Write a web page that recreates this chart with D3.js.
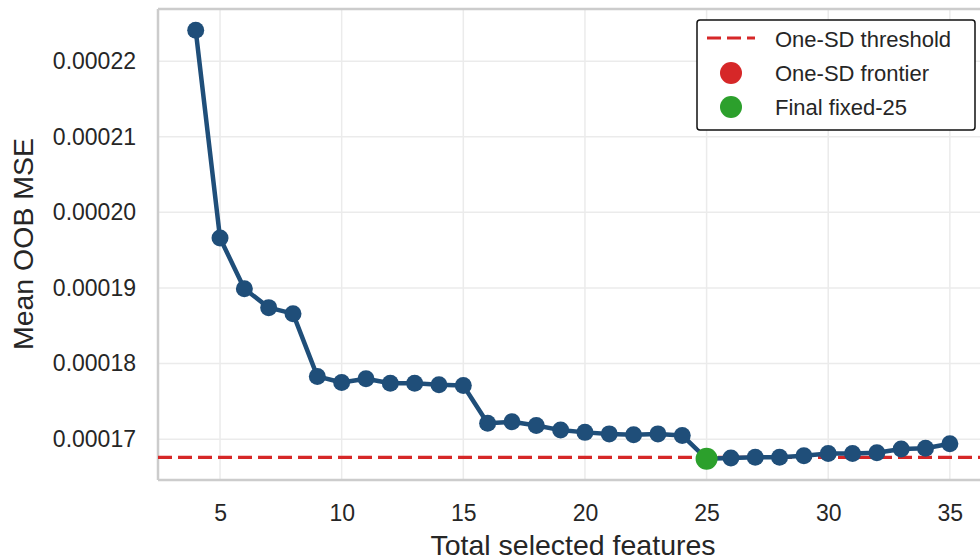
<html>
<head>
<script src="https://d3js.org/d3.v7.min.js"></script>
<style>
body { margin: 0; background: #fff; }
svg { font-family: 'Liberation Sans', Arial, sans-serif; }
</style>
</head>
<body>
<svg id="chart" width="980" height="560"></svg>
<script>
// data
var nFeatures = [4,5,6,7,8,9,10,11,12,13,14,15,16,17,18,19,20,21,22,23,24,25,26,27,28,29,30,31,32,33,34,35];
var meanMse = [0.0002241,0.0001966,0.0001899,0.0001874,0.0001866,0.0001783,0.0001775,0.0001780,0.0001774,0.0001774,0.0001772,0.0001771,
  0.0001721,0.0001723,0.0001718,0.0001712,0.0001709,0.0001707,0.0001706,0.0001707,0.0001705,0.0001674,0.0001675,0.0001676,
  0.0001676,0.0001678,0.0001681,0.0001681,0.0001682,0.0001687,0.0001688,0.0001694];
var threshold = 0.0001676;
var finalK = 25;
var xTicks = [5,10,15,20,25,30,35];
var yTicks = [0.00017,0.00018,0.00019,0.00020,0.00021,0.00022];
var legendLabels = ["One-SD threshold","One-SD frontier","Final fixed-25"];

var mLeft = 158, mRight = 990, mTop = 9, mBottom = 480;
var svg = d3.select("#chart");

var x = d3.scaleLinear().domain([2.45, 36.65]).range([mLeft, mRight]);
var y = d3.scaleLinear().domain([0.0001646, 0.0002269]).range([mBottom, mTop]);

// grid
svg.append("g").selectAll("line").data(xTicks).enter().append("line")
  .attr("x1", function(d){return x(d);}).attr("x2", function(d){return x(d);})
  .attr("y1", mTop).attr("y2", mBottom)
  .attr("stroke", "#ebebeb").attr("stroke-width", 1.5);
svg.append("g").selectAll("line").data(yTicks).enter().append("line")
  .attr("x1", mLeft).attr("x2", mRight)
  .attr("y1", function(d){return y(d);}).attr("y2", function(d){return y(d);})
  .attr("stroke", "#ebebeb").attr("stroke-width", 1.5);

// axes
var xAxis = svg.append("g").attr("transform", "translate(0," + mBottom + ")")
  .call(d3.axisBottom(x).tickValues(xTicks).tickSize(0).tickPadding(25));
var yAxis = svg.append("g").attr("transform", "translate(" + mLeft + ",0)")
  .call(d3.axisLeft(y).tickValues(yTicks).tickSize(0).tickPadding(22).tickFormat(d3.format(".5f")));
[xAxis, yAxis].forEach(function(a){
  a.select(".domain").remove();
  a.attr("font-size", null).attr("font-family", null);
  a.selectAll("text").attr("font-size", 23).attr("fill", "#262626");
});

// spines
svg.append("line").attr("x1", mLeft).attr("x2", mLeft).attr("y1", mTop).attr("y2", mBottom)
  .attr("stroke", "#cccccc").attr("stroke-width", 2.5);
svg.append("line").attr("x1", mLeft).attr("x2", mRight).attr("y1", mBottom).attr("y2", mBottom)
  .attr("stroke", "#cccccc").attr("stroke-width", 2.5);
svg.append("line").attr("x1", mLeft).attr("x2", mRight).attr("y1", mTop).attr("y2", mTop)
  .attr("stroke", "#cccccc").attr("stroke-width", 2.5);

// threshold
svg.append("line").attr("x1", mLeft).attr("x2", mRight)
  .attr("y1", y(threshold)).attr("y2", y(threshold))
  .attr("stroke", "#d62728").attr("stroke-width", 3.2).attr("stroke-dasharray", "14,6");

var pts = nFeatures.map(function(d, i){ return {k: d, v: meanMse[i]}; });
svg.append("path").datum(pts)
  .attr("fill", "none").attr("stroke", "#1f4e79").attr("stroke-width", 4.5).attr("stroke-linejoin", "round")
  .attr("d", d3.line().x(function(d){return x(d.k);}).y(function(d){return y(d.v);}));
svg.append("g").selectAll("circle").data(pts).enter().append("circle")
  .attr("cx", function(d){return x(d.k);}).attr("cy", function(d){return y(d.v);})
  .attr("r", 8.5).attr("fill", "#1f4e79");

var fin = pts.filter(function(d){return d.k === finalK;})[0];
svg.append("circle").attr("cx", x(fin.k)).attr("cy", y(fin.v)).attr("r", 8.5).attr("fill", "#d62728");
svg.append("circle").attr("cx", x(fin.k)).attr("cy", y(fin.v)).attr("r", 11).attr("fill", "#2ca02c");

// labels
svg.append("text").attr("x", 573).attr("y", 555).attr("text-anchor", "middle")
  .attr("font-size", 28.5).attr("fill", "#262626").text("Total selected features");
svg.append("text").attr("transform", "translate(33,244) rotate(-90)").attr("text-anchor", "middle")
  .attr("font-size", 28.5).attr("fill", "#262626").text("Mean OOB MSE");

// legend
var lg = svg.append("g").attr("transform", "translate(697,20)");
lg.append("rect").attr("width", 278).attr("height", 110).attr("rx", 3)
  .attr("fill", "#fff").attr("stroke", "#111").attr("stroke-width", 1.5);
lg.append("line").attr("x1", 10).attr("x2", 58).attr("y1", 18).attr("y2", 18)
  .attr("stroke", "#d62728").attr("stroke-width", 3.2).attr("stroke-dasharray", "14,6");
lg.append("circle").attr("cx", 34).attr("cy", 53).attr("r", 11).attr("fill", "#d62728");
lg.append("circle").attr("cx", 34).attr("cy", 87).attr("r", 11).attr("fill", "#2ca02c");
lg.selectAll("text.lbl").data(legendLabels).enter().append("text").attr("class", "lbl")
  .attr("x", 78).attr("y", function(d, i){return 27 + i * 34;})
  .attr("font-size", 22).attr("fill", "#262626").text(function(d){return d;});
</script>
</body>
</html>
